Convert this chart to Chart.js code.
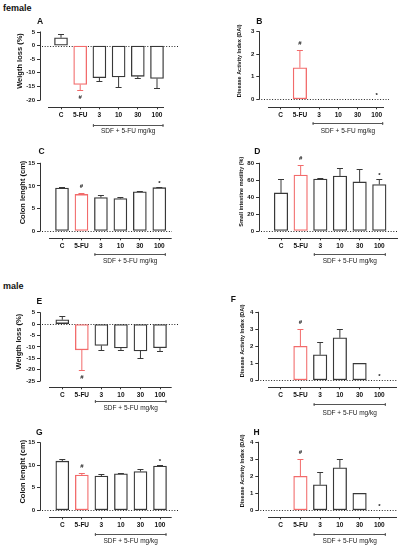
<!DOCTYPE html>
<html><head><meta charset="utf-8">
<script src="https://cdn.jsdelivr.net/npm/chart.js@4.4.1/dist/chart.umd.min.js"></script>
<style>
html,body{margin:0;padding:0;background:#fff;}
#wrap{position:relative;width:398px;height:550px;overflow:hidden;font-family:'Liberation Sans',Arial,sans-serif;color:#111;}
canvas{position:absolute;}
.t{position:absolute;font-weight:bold;line-height:1;white-space:nowrap;}
</style></head>
<body><div id="wrap">
<div class="t" style="left:3px;top:4px;font-size:9px">female</div>
<div class="t" style="left:3px;top:282px;font-size:9px">male</div>
</div>
<script>
// ---------- data ----------
const categories = ['C', '5-FU', '3', '10', '30', '100'];
const groupLabel = 'SDF + 5-FU mg/kg';

// female
const weightLossFemale = [2.9, -14.3, -11.8, -11.5, -11.3, -12.1];
const weightLossFemaleSem = [1.5, 1.9, 1.2, 3.7, 0.5, 3.6];
const weightLossFemaleMarks = ['', '#', '', '', '', ''];
const weightTicksFemale = [-20, -15, -10, -5, 0, 5];

const daiFemale = [0, 1.4, 0, 0, 0, 0];
const daiFemaleSem = [0, 0.8, 0, 0, 0, 0];
const daiFemaleMarks = ['', '#', '', '', '', '*'];
const daiTicksFemale = [0, 1, 2, 3];

const colonFemale = [9.5, 8.1, 7.4, 7.2, 8.7, 9.6];
const colonFemaleSem = [0.35, 0.25, 0.6, 0.35, 0.25, 0.25];
const colonFemaleMarks = ['', '#', '', '', '', '*'];
const colonTicksFemale = [0, 5, 10, 15];

const motilityFemale = [45, 66, 61.5, 65, 58, 55];
const motilityFemaleSem = [17, 12, 1, 9, 15, 7];
const motilityFemaleMarks = ['', '#', '', '', '', '*'];
const motilityTicksFemale = [0, 20, 40, 60, 80];

// male
const weightLossMale = [1.9, -11.3, -9.4, -10.5, -11.8, -10.4];
const weightLossMaleSem = [1.6, 9.0, 2.1, 1.0, 3.0, 1.6];
const weightLossMaleMarks = ['', '#', '', '', '', ''];
const weightTicksMale = [-25, -20, -15, -10, -5, 0, 5];

const daiMaleF = [0, 2, 1.5, 2.5, 1, 0];
const daiMaleFSem = [0, 1, 0.75, 0.5, 0, 0];
const daiMaleFMarks = ['', '#', '', '', '', '*'];
const daiTicksMale = [0, 1, 2, 3, 4];

const colonMale = [10.9, 7.8, 7.6, 8.1, 8.6, 9.8];
const colonMaleSem = [0.4, 0.4, 0.4, 0.2, 0.5, 0.25];
const colonMaleMarks = ['', '#', '', '', '', '*'];
const colonTicksMale = [0, 5, 10, 15];

const daiMaleH = [0, 2, 1.5, 2.5, 1, 0];
const daiMaleHSem = [0, 1, 0.75, 0.5, 0, 0];
const daiMaleHMarks = ['', '#', '', '', '', '*'];

const titleWeight = 'Weigth loss (%)';
const titleDai = 'Disease Activity Index (DAI)';
const titleColon = 'Colon lenght (cm)';
const titleMotility = 'Small intestine motility (%)';

// ---------- layout (page pixels) ----------
const panels = [
 {id:'A', values:weightLossFemale, errors:weightLossFemaleSem, marks:weightLossFemaleMarks, yTicks:weightTicksFemale, title:titleWeight,
  box:{L:0,T:14,W:200,H:126}, axisX:40, topTickY:32, minTickY:100, axisY:107.3, c0:61, cN:157, xLine:[48,164], dotTo:178,
  bracketY:125, textY:131, titlePos:[20,61], titleSize:7.5, letter:[40,21], barW:13},
 {id:'B', values:daiFemale, errors:daiFemaleSem, marks:daiFemaleMarks, yTicks:daiTicksFemale, title:titleDai,
  box:{L:200,T:14,W:198,H:126}, axisX:259.3, topTickY:31.7, minTickY:99.3, axisY:107.3, c0:280.7, cN:376.7, xLine:[268,384], dotTo:389,
  bracketY:123, textY:131, titlePos:[239.3,60.8], titleSize:5.5, letter:[259.3,21], barW:13.5},
 {id:'C', values:colonFemale, errors:colonFemaleSem, marks:colonFemaleMarks, yTicks:colonTicksFemale, title:titleColon,
  box:{L:0,T:142,W:200,H:128}, axisX:40, topTickY:163.3, minTickY:231, axisY:238.3, c0:62, cN:159.3, xLine:[49,171.7], dotTo:172,
  bracketY:254.3, textY:261.7, titlePos:[22.7,192.5], titleSize:7.5, letter:[41.7,150.7], barW:13},
 {id:'D', values:motilityFemale, errors:motilityFemaleSem, marks:motilityFemaleMarks, yTicks:motilityTicksFemale, title:titleMotility,
  box:{L:200,T:142,W:198,H:128}, axisX:259, topTickY:163.3, minTickY:231, axisY:238.3, c0:281, cN:379.3, xLine:[268,398], dotTo:398,
  bracketY:254.3, textY:261.7, titlePos:[241.7,191.7], titleSize:5.5, letter:[257.3,150.7], barW:13.5},
 {id:'E', values:weightLossMale, errors:weightLossMaleSem, marks:weightLossMaleMarks, yTicks:weightTicksMale, title:titleWeight,
  box:{L:0,T:292,W:200,H:128}, axisX:40, topTickY:312.7, minTickY:381, axisY:387.3, c0:62.3, cN:160, xLine:[49,171.7], dotTo:178,
  bracketY:401, textY:408.3, titlePos:[19.3,341.7], titleSize:7.5, letter:[39.3,301], barW:13},
 {id:'F', values:daiMaleF, errors:daiMaleFSem, marks:daiMaleFMarks, yTicks:daiTicksMale, title:titleDai,
  box:{L:200,T:292,W:198,H:128}, axisX:258.3, topTickY:312.3, minTickY:380.3, axisY:387.3, c0:280.7, cN:379.3, xLine:[268,397], dotTo:397,
  bracketY:404.5, textY:413, titlePos:[242.7,340.8], titleSize:5.5, letter:[233.3,299.3], barW:13.5},
 {id:'G', values:colonMale, errors:colonMaleSem, marks:colonMaleMarks, yTicks:colonTicksMale, title:titleColon,
  box:{L:0,T:422,W:200,H:128}, axisX:40, topTickY:442.7, minTickY:510.3, axisY:517.3, c0:62.3, cN:160, xLine:[49,171.7], dotTo:178,
  bracketY:534.3, textY:541.7, titlePos:[22.7,471.7], titleSize:7.5, letter:[39.3,432.3], barW:13},
 {id:'H', values:daiMaleH, errors:daiMaleHSem, marks:daiMaleHMarks, yTicks:daiTicksMale, title:titleDai,
  box:{L:200,T:422,W:198,H:128}, axisX:258.3, topTickY:442.3, minTickY:510.3, axisY:517.3, c0:280.7, cN:379.3, xLine:[268,397], dotTo:397,
  bracketY:534.3, textY:541.7, titlePos:[242.7,470.8], titleSize:5.5, letter:[256.7,432.3], barW:13.5}
];

const FONT = "'Liberation Sans', Arial, sans-serif";
const DARK = '#383838';
const RED = '#f26b6b';
const wrap = document.getElementById('wrap');

function makeDecor(p) {
  const L = p.box.L, T = p.box.T;
  return {
    id: 'decor' + p.id,
    beforeDatasetsDraw(chart) {
      const {ctx, chartArea: ca, scales: {y}} = chart;
      const y0 = Math.round(y.getPixelForValue(0)) + 0.5;
      ctx.save();
      ctx.strokeStyle = '#222'; ctx.lineWidth = 1; ctx.setLineDash([1, 1.7]);
      ctx.beginPath(); ctx.moveTo(ca.left + 2, y0); ctx.lineTo(ca.right, y0); ctx.stroke();
      ctx.restore();
    },
    afterDatasetsDraw(chart) {
      const {ctx, scales: {x, y}} = chart;
      ctx.save();
      p.values.forEach((v, i) => {
        const e = p.errors[i];
        const col = i === 1 ? RED : DARK;
        const px = x.getPixelForValue(i);
        let anchor = 0;
        if (v !== 0) {
          const end = v > 0 ? v + e : v - e;
          anchor = end;
          const y1 = y.getPixelForValue(v), y2 = Math.round(y.getPixelForValue(end)) + 0.5;
          ctx.strokeStyle = col; ctx.lineWidth = 1;
          ctx.beginPath(); ctx.moveTo(px, y1); ctx.lineTo(px, y2);
          ctx.moveTo(px - 3, y2); ctx.lineTo(px + 3, y2); ctx.stroke();
        }
        const s = p.marks[i];
        if (s) {
          ctx.fillStyle = '#111'; ctx.font = 'bold 6px ' + FONT;
          ctx.textAlign = 'center'; ctx.textBaseline = 'alphabetic';
          const ay = y.getPixelForValue(anchor);
          if (v < 0) ctx.fillText(s, px, ay + 9);
          else ctx.fillText(s, px, ay - (s === '#' ? 5 : 2));
        }
      });
      ctx.restore();
    },
    afterDraw(chart) {
      const {ctx, chartArea: ca, scales: {x, y}} = chart;
      ctx.save();
      ctx.strokeStyle = '#333'; ctx.lineWidth = 1;
      const ax = Math.floor(ca.left) + 0.5;
      const yTop = y.getPixelForValue(p.yTicks[p.yTicks.length - 1]);
      const yBot = y.getPixelForValue(p.yTicks[0]);
      ctx.beginPath(); ctx.moveTo(ax, yTop - 0.5); ctx.lineTo(ax, yBot + 0.5); ctx.stroke();
      const by = Math.floor(ca.bottom) + 0.5;
      ctx.beginPath(); ctx.moveTo(p.xLine[0] - L, by); ctx.lineTo(p.xLine[1] - L, by); ctx.stroke();
      // bracket for SDF groups
      const b1 = x.getPixelForValue(2) - 6.5, b2 = x.getPixelForValue(5) + 6.5;
      const bY = Math.floor(p.bracketY - T) + 0.5;
      ctx.strokeStyle = '#555';
      ctx.beginPath();
      ctx.moveTo(b1, bY); ctx.lineTo(b2, bY);
      ctx.moveTo(b1 + 0.5, bY - 1.5); ctx.lineTo(b1 + 0.5, bY + 1.5);
      ctx.moveTo(b2 - 0.5, bY - 1.5); ctx.lineTo(b2 - 0.5, bY + 1.5);
      ctx.stroke();
      ctx.fillStyle = '#222'; ctx.font = '6.5px ' + FONT;
      ctx.textAlign = 'center'; ctx.textBaseline = 'middle';
      ctx.fillText(groupLabel, (b1 + b2) / 2, p.textY - T);
      // y title
      ctx.translate(p.titlePos[0] - L, p.titlePos[1] - T);
      ctx.rotate(-Math.PI / 2);
      ctx.fillStyle = '#111'; ctx.font = 'bold ' + p.titleSize + 'px ' + FONT;
      ctx.fillText(p.title, 0, 0);
      ctx.restore();
    }
  };
}

function buildChart(p) {
  const {L, T, W, H} = p.box;
  const canvas = document.createElement('canvas');
  canvas.width = W; canvas.height = H;
  canvas.style.left = L + 'px'; canvas.style.top = T + 'px';
  canvas.style.width = W + 'px'; canvas.style.height = H + 'px';
  wrap.appendChild(canvas);

  const letter = document.createElement('div');
  letter.className = 't';
  letter.textContent = p.id;
  letter.style.fontSize = '8.5px';
  letter.style.left = p.letter[0] + 'px';
  letter.style.top = (p.letter[1] - 4.2) + 'px';
  letter.style.transform = 'translateX(-50%)';
  wrap.appendChild(letter);

  const n = categories.length;
  const maxT = p.yTicks[p.yTicks.length - 1], minT = p.yTicks[0];
  const ppu = (p.minTickY - p.topTickY) / (maxT - minT);
  const yMin = minT - (p.axisY - p.minTickY) / ppu;
  const unit = (p.cN - p.c0) / (n - 1);
  const xMin = -(p.c0 - p.axisX) / unit;
  const xMax = (n - 1) + (p.dotTo - p.cN) / unit;

  new Chart(canvas, {
    type: 'bar',
    data: {
      datasets: [{
        data: p.values.map((v, i) => ({x: i, y: v})),
        backgroundColor: '#ffffff',
        borderColor: categories.map((c, i) => i === 1 ? RED : DARK),
        borderWidth: 1.3,
        borderSkipped: false,
        barThickness: p.barW
      }]
    },
    options: {
      responsive: false, animation: false, events: [], devicePixelRatio: 1,
      layout: {padding: {top: p.topTickY - T, right: (L + W) - p.dotTo, left: 0, bottom: 0}},
      plugins: {legend: {display: false}, tooltip: {enabled: false}},
      scales: {
        x: {
          type: 'linear', min: xMin, max: xMax, offset: false,
          afterBuildTicks: s => { s.ticks = categories.map((c, i) => ({value: i})); },
          afterFit: s => { s.height = (T + H) - p.axisY; },
          grid: {display: true, offset: false, drawOnChartArea: false, drawTicks: true, tickLength: 2, color: '#333', lineWidth: 1},
          border: {display: false},
          ticks: {autoSkip: false, maxRotation: 0, minRotation: 0, padding: 2, color: '#111',
                  font: {family: FONT, size: 6.5, weight: 'bold'},
                  callback: v => categories[v] ?? ''}
        },
        y: {
          type: 'linear', min: yMin, max: maxT,
          afterBuildTicks: s => { s.ticks = p.yTicks.map(v => ({value: v})); },
          afterFit: s => { s.width = p.axisX - L; },
          grid: {display: true, drawOnChartArea: false, drawTicks: true, tickLength: 3, color: '#333', lineWidth: 1},
          border: {display: false},
          ticks: {autoSkip: false, padding: 2, color: '#111', font: {family: FONT, size: 6, weight: 'bold'}}
        }
      }
    },
    plugins: [makeDecor(p)]
  });
}

panels.forEach(buildChart);
</script>
</body></html>
